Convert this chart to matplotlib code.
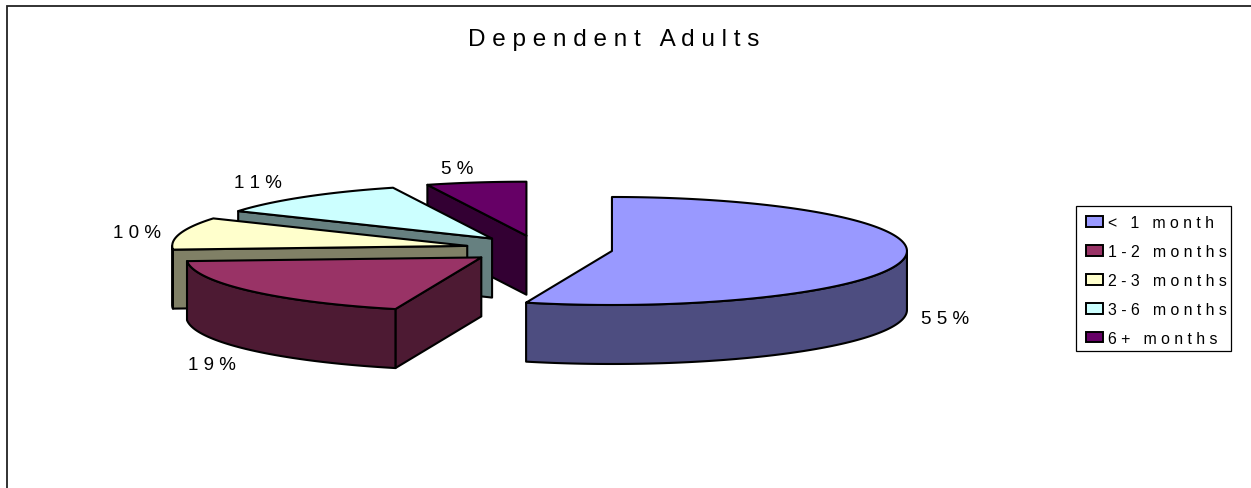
import numpy as np
import matplotlib
matplotlib.use('Agg')
import matplotlib.pyplot as plt
from matplotlib.patches import Polygon, Patch, Rectangle

plt.rcParams['font.family'] = ['Liberation Sans', 'DejaVu Sans']

title = 'Dependent Adults'
categories = ['< 1 month', '1-2 months', '2-3 months', '3-6 months', '6+ months']
values = [54.7, 19.2, 9.6, 11.05, 5.45]
top_colors = ['#9999FF', '#993366', '#FFFFCC', '#CCFFFF', '#660066']
side_colors = ['#4D4D80', '#4D1A33', '#808066', '#668080', '#330033']

# layout in pixels of the 1251x489 picture
cx, cy = 539, 250
rx, ry = 295, 54
depth = 59
explode = 0.25
label_xy = [(945, 320), (212, 366), (137, 234), (258, 183), (457, 169)]


def spaced(s):
    # the original chart has wide letter spacing
    return ' '.join(s)


def rim(x0, y0, a0, a1, drop=0):
    # points on the pie edge between two angles, clockwise from the top
    n = max(int(abs(a1 - a0) * 2), 2)
    t = np.radians(np.linspace(a0, a1, n))
    return np.column_stack([x0 + rx * np.sin(t), y0 - ry * np.cos(t) + drop])


fig = plt.figure(figsize=(12.51, 4.89), dpi=100)
ax = fig.add_axes([0, 0, 1, 1])
ax.set_xlim(0, 1251)
ax.set_ylim(489, 0)
ax.axis('off')

# chart frame, right and bottom run off the picture
ax.add_patch(Rectangle((7, 7), 2000, 2000, fc='white', ec='#222222', lw=1.3))

edges = np.cumsum([0] + values) / sum(values) * 360
lw = 1.5

# draw from the back slice to the front one
for i in [4, 3, 2, 1, 0]:
    a0, a1 = edges[i], edges[i + 1]
    mid = np.radians((a0 + a1) / 2)
    x0 = cx + explode * rx * np.sin(mid)
    y0 = cy - explode * ry * np.cos(mid)
    z = 10 + (4 - i)

    # flat side on the starting radius, only when it faces the viewer
    if np.sin(np.radians(a0)) < 0:
        p = rim(x0, y0, a0, a0)[0]
        side = [(x0, y0), p, (p[0], p[1] + depth), (x0, y0 + depth)]
        ax.add_patch(Polygon(side, fc=side_colors[i], ec='black', lw=lw, zorder=z, joinstyle='round'))

    # curved wall, the front half of the rim
    lo, hi = max(a0, 90), min(a1, 270)
    if hi > lo:
        wall = np.vstack([rim(x0, y0, lo, hi), rim(x0, y0, hi, lo, depth)])
        ax.add_patch(Polygon(wall, fc=side_colors[i], ec='black', lw=lw, zorder=z, joinstyle='round'))

    face = np.vstack([[(x0, y0)], rim(x0, y0, a0, a1)])
    ax.add_patch(Polygon(face, fc=top_colors[i], ec='black', lw=lw, zorder=z, joinstyle='round'))

ax.text(614, 40, spaced(title), ha='center', va='center', fontsize=17.5, color='black')

for v, (x, y) in zip(values, label_xy):
    ax.text(x, y, spaced('{:.0f}%'.format(v)), ha='center', va='center', fontsize=13.5, color='black')

# legend frame is drawn apart, its padding is not even on both sides
ax.add_patch(Rectangle((1076, 207), 155, 145, fc='white', ec='black', lw=0.9, zorder=29))
handles = [Patch(fc=c, ec='black', lw=1.4) for c in top_colors]
leg = ax.legend(handles, [spaced(c) for c in categories],
                loc='upper left', bbox_to_anchor=(1086, 216), bbox_transform=ax.transData,
                fontsize=11.4, frameon=False,
                borderaxespad=0, borderpad=0, labelspacing=0.88,
                handlelength=1.05, handleheight=0.65, handletextpad=0.35)
leg.set_zorder(30)

fig.savefig('out.png', dpi=100)
